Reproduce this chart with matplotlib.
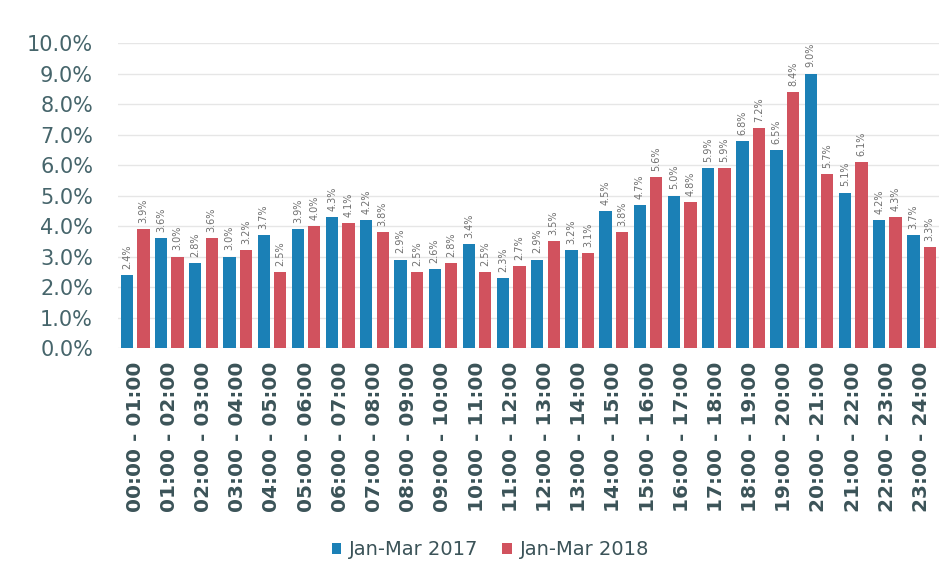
import numpy as np
import matplotlib.pyplot as plt

# Stundenintervalle
hours = [f"{h:02d}:00 - {h + 1:02d}:00" for h in range(24)]

# Anteile in Prozent
share_2017 = [2.4, 3.6, 2.8, 3.0, 3.7, 3.9, 4.3, 4.2, 2.9, 2.6, 3.4, 2.3,
              2.9, 3.2, 4.5, 4.7, 5.0, 5.9, 6.8, 6.5, 9.0, 5.1, 4.2, 3.7]
share_2018 = [3.9, 3.0, 3.6, 3.2, 2.5, 4.0, 4.1, 3.8, 2.5, 2.8, 2.5, 2.7,
              3.5, 3.1, 3.8, 5.6, 4.8, 5.9, 7.2, 8.4, 5.7, 6.1, 4.3, 3.3]

blue = "#1b80b6"
red = "#d1525e"
text_col = "#46656b"

fig = plt.figure(figsize=(9.52, 5.82), dpi=100)
ax = fig.add_axes([0.124, 0.402, 0.862, 0.524])

x = np.arange(len(hours))
w = 0.36
b1 = ax.bar(x - 0.24, share_2017, w, color=blue, label="Jan-Mar 2017", zorder=2)
b2 = ax.bar(x + 0.24, share_2018, w, color=red, label="Jan-Mar 2018", zorder=2)

# Werte über den Balken
for bars, vals in [(b1, share_2017), (b2, share_2018)]:
    for bar, v in zip(bars, vals):
        ax.text(bar.get_x() + bar.get_width() / 2, v + 0.2, f"{v:.1f}%",
                rotation=90, ha="center", va="bottom", fontsize=7,
                color="#707070", clip_on=False)

ax.set_ylim(0, 10)
ax.set_xlim(-0.5, len(hours) - 0.5)
ax.set_yticks(np.arange(0, 11, 1))
ax.set_yticklabels([f"{v:.1f}%" for v in range(11)])
ax.set_xticks(x)
ax.set_xticklabels(hours, rotation=90)

ax.grid(axis="y", color="#e6e6e6", linewidth=1, zorder=0)
for s in ax.spines.values():
    s.set_visible(False)
ax.tick_params(axis="y", length=0, labelsize=15, labelcolor=text_col, pad=18)
ax.tick_params(axis="x", length=0, labelsize=14.5, labelcolor="#3b5358", pad=10)
for lbl in ax.get_xticklabels():
    lbl.set_fontweight("bold")

fig.legend(handles=[b1, b2], loc="center", bbox_to_anchor=(0.515, 0.055),
           ncol=2, frameon=False, fontsize=14, handlelength=0.5,
           handleheight=0.5, handletextpad=0.4, columnspacing=1.2,
           labelcolor="#3b5358")

fig.savefig("out.png", dpi=100)
